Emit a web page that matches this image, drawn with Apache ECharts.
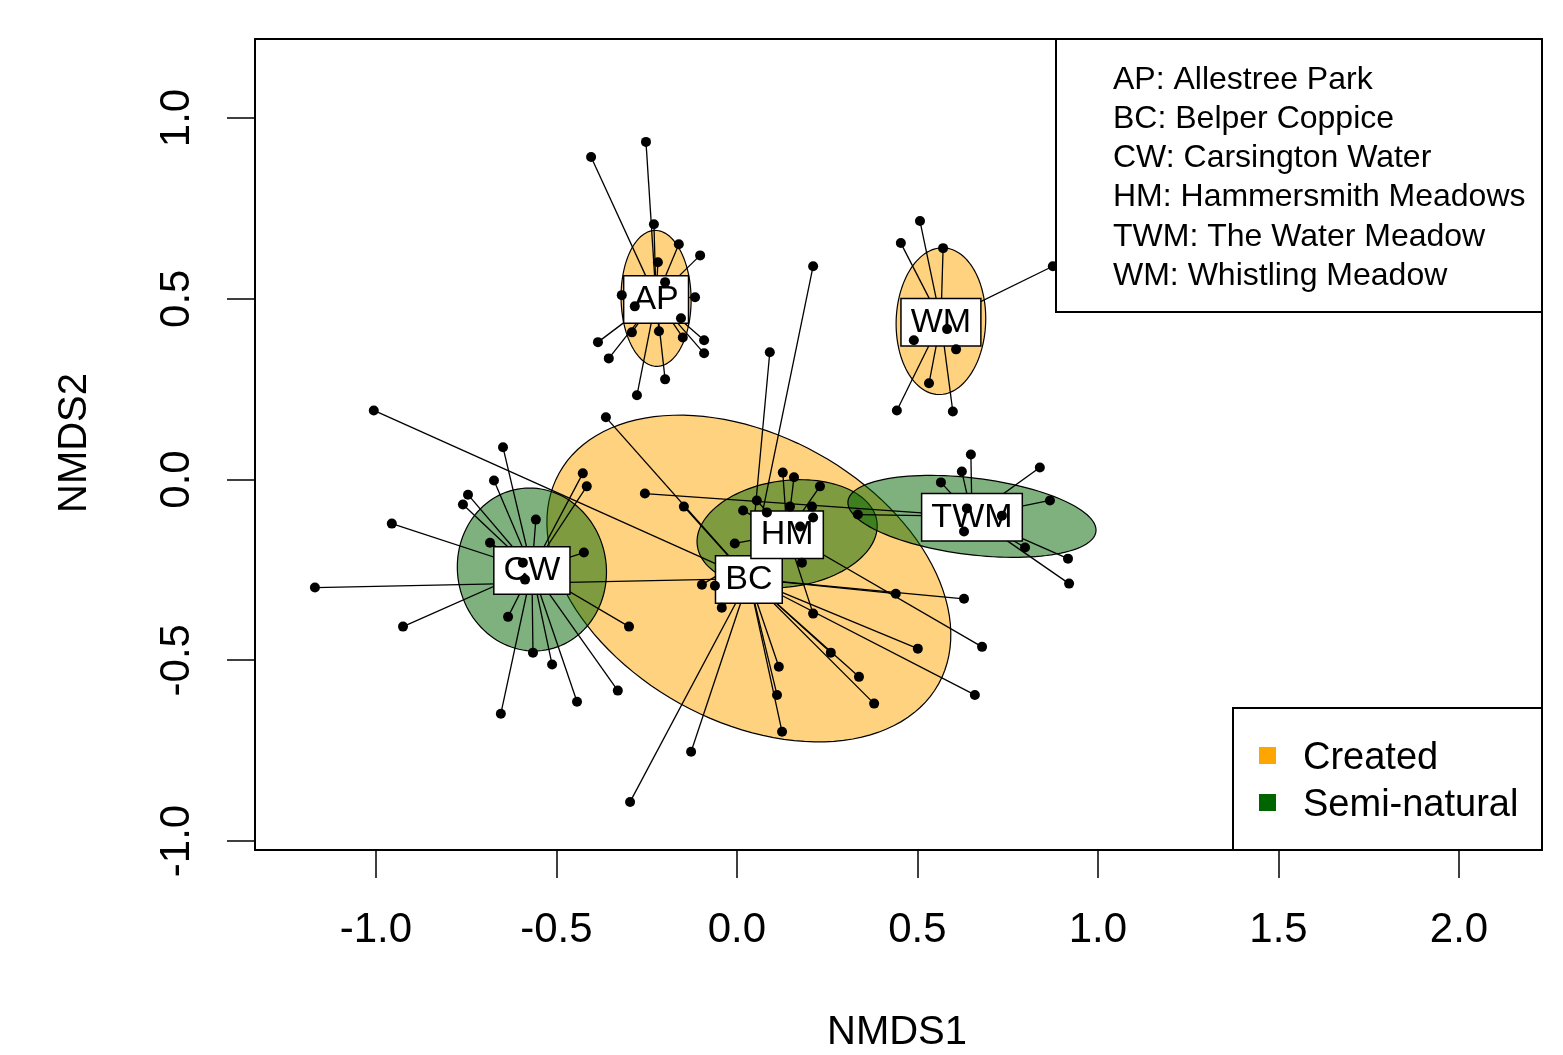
<!DOCTYPE html>
<html><head><meta charset="utf-8">
<script src="https://cdn.jsdelivr.net/npm/echarts@6/dist/echarts.min.js"></script>
<style>html,body{margin:0;padding:0;background:#fff}#c{width:1563px;height:1055px}</style>
</head><body><div id="c"></div>
<script>
// ---- data ----
const siteCodes = ['AP', 'BC', 'CW', 'HM', 'TWM', 'WM'];
const siteNames = ['Allestree Park', 'Belper Coppice', 'Carsington Water', 'Hammersmith Meadows', 'The Water Meadow', 'Whistling Meadow'];
const siteType = ['Created', 'Created', 'Semi-natural', 'Semi-natural', 'Semi-natural', 'Created'];
const typeNames = ['Created', 'Semi-natural'];
const typeColors = ['#FFA500', '#006400'];
const typeFills = ['rgba(255,165,0,0.5)', 'rgba(0,100,0,0.5)'];

const centroidX = [-0.224, 0.033, -0.568, 0.139, 0.651, 0.565];
const centroidY = [0.501, -0.274, -0.249, -0.150, -0.102, 0.438];
const ellipseA = [0.188, 0.601, 0.226, 0.251, 0.346, 0.203];
const ellipseB = [0.097, 0.395, 0.206, 0.147, 0.106, 0.124];
const ellipseAngle = [91, -29, 100, 7.6, -7, 88];

const xTicks = [-1.0, -0.5, 0.0, 0.5, 1.0, 1.5, 2.0];
const yTicks = [-1.0, -0.5, 0.0, 0.5, 1.0];

const apX = [-0.252, -0.404, -0.230, -0.161, -0.102, -0.219, -0.199, -0.319, -0.283, -0.116, -0.155, -0.291, -0.216, -0.150, -0.385, -0.091, -0.091, -0.355, -0.199, -0.277];
const apY = [0.934, 0.892, 0.706, 0.651, 0.620, 0.601, 0.546, 0.510, 0.479, 0.504, 0.446, 0.407, 0.410, 0.393, 0.380, 0.385, 0.349, 0.335, 0.277, 0.233];

const bcX = [-1.169, -1.006, -0.363, -0.147, 0.091, 0.211, -0.042, -0.296, -0.127, 0.116, 0.111, 0.125, 0.260, 0.338, 0.380, 0.440, 0.629, 0.501, 0.659];
const bcY = [-0.299, 0.191, 0.172, -0.075, 0.352, 0.590, -0.355, -0.892, -0.753, -0.518, -0.596, -0.698, -0.479, -0.546, -0.620, -0.316, -0.330, -0.468, -0.596];

const cwX = [-0.648, -0.673, -0.745, -0.759, -0.557, -0.956, -0.684, -0.427, -0.416, -0.424, -0.593, -0.587, -0.634, -0.925, -0.299, -0.565, -0.512, -0.330, -0.443, -0.654];
const cwY = [0.089, -0.003, -0.042, -0.069, -0.111, -0.122, -0.175, 0.017, -0.019, -0.202, -0.230, -0.277, -0.380, -0.407, -0.407, -0.479, -0.512, -0.584, -0.615, -0.648];

const hmX = [0.127, 0.158, 0.230, 0.055, 0.017, 0.083, 0.147, 0.208, 0.211, 0.175, -0.006, 0.180, 0.211, 0.679, -0.097, -0.061];
const hmY = [0.019, 0.006, -0.019, -0.058, -0.086, -0.091, -0.075, -0.075, -0.105, -0.130, -0.177, -0.230, -0.371, -0.463, -0.291, -0.294];

const twmX = [0.648, 0.623, 0.839, 0.867, 0.637, 0.734, 0.629, 0.798, 0.917, 0.920, 0.565, -0.255, 0.335];
const twmY = [0.069, 0.022, 0.033, -0.058, -0.080, -0.100, -0.144, -0.188, -0.219, -0.288, -0.008, -0.039, -0.097];

const wmX = [0.507, 0.454, 0.571, 0.875, 0.582, 0.490, 0.607, 0.532, 0.443, 0.598];
const wmY = [0.715, 0.654, 0.640, 0.590, 0.416, 0.385, 0.360, 0.266, 0.191, 0.188];

// ---- build series data ----
const siteX = [apX, bcX, cwX, hmX, twmX, wmX];
const siteY = [apY, bcY, cwY, hmY, twmY, wmY];

const pointData = [];
const spiderData = [];
siteCodes.forEach((code, i) => {
  siteX[i].forEach((x, j) => {
    pointData.push([x, siteY[i][j]]);
    spiderData.push([x, siteY[i][j], centroidX[i], centroidY[i]]);
  });
});

const labelData = siteCodes.map((code, i) => [centroidX[i], centroidY[i], i]);

const FONT = '"Liberation Sans", Arial, Helvetica, sans-serif';

function ellipseSeries(typeIdx) {
  const data = [];
  siteCodes.forEach((c, i) => {
    if (siteType[i] === typeNames[typeIdx]) {
      data.push([centroidX[i], centroidY[i], ellipseA[i], ellipseB[i], ellipseAngle[i]]);
    }
  });
  return {
    type: 'custom',
    name: typeNames[typeIdx],
    coordinateSystem: 'cartesian2d',
    z: 1,
    itemStyle: { color: typeColors[typeIdx] },
    encode: { x: 0, y: 1 },
    data: data,
    renderItem: function (params, api) {
      const cx = api.value(0), cy = api.value(1), a = api.value(2), b = api.value(3);
      const th = api.value(4) * Math.PI / 180;
      const pts = [];
      const N = 120;
      for (let k = 0; k < N; k++) {
        const t = 2 * Math.PI * k / N;
        const dx = a * Math.cos(t), dy = b * Math.sin(t);
        pts.push(api.coord([cx + dx * Math.cos(th) - dy * Math.sin(th), cy + dx * Math.sin(th) + dy * Math.cos(th)]));
      }
      return {
        type: 'polygon',
        shape: { points: pts },
        style: { fill: typeFills[typeIdx], stroke: '#000', lineWidth: 1.2 }
      };
    }
  };
}

const legendLines = siteCodes.map((c, i) => c + ': ' + siteNames[i]);
const graphics = [
  { type: 'rect', z: 100, shape: { x: 1056, y: 39, width: 486, height: 273 }, style: { fill: '#fff', stroke: '#000', lineWidth: 2 } },
  { type: 'rect', z: 100, shape: { x: 1233, y: 708, width: 309, height: 142 }, style: { fill: '#fff', stroke: '#000', lineWidth: 2 } },
  { type: 'text', z: 101, x: 897, y: 1033, style: { text: 'NMDS1', font: '40px ' + FONT, fill: '#000', align: 'center', verticalAlign: 'middle' } },
  { type: 'text', z: 101, x: 75, y: 443, rotation: Math.PI / 2, style: { text: 'NMDS2', font: '40px ' + FONT, fill: '#000', align: 'center', verticalAlign: 'middle' } }
];
legendLines.forEach((t, i) => {
  graphics.push({ type: 'text', z: 101, x: 1113, y: 80 + i * 39.2, style: { text: t, font: '32px ' + FONT, fill: '#000', align: 'left', verticalAlign: 'middle' } });
});
typeNames.forEach((t, i) => {
  graphics.push({ type: 'rect', z: 101, shape: { x: 1259, y: 747 + i * 47, width: 17, height: 17 }, style: { fill: typeColors[i] } });
  graphics.push({ type: 'text', z: 101, x: 1303, y: 759 + i * 47, style: { text: t, font: '38px ' + FONT, fill: '#000', align: 'left', verticalAlign: 'middle' } });
});

const option = {
  animation: false,
  backgroundColor: '#fff',
  grid: { left: 255, top: 39, width: 1287, height: 811, show: true, borderColor: '#000', borderWidth: 2, backgroundColor: 'transparent' },
  xAxis: {
    type: 'value', min: -1.335, max: 2.230,
    axisLine: { show: false, onZero: false },
    splitLine: { show: false },
    axisTick: { show: true, length: 28, customValues: xTicks, lineStyle: { color: '#000', width: 1.5 } },
    axisLabel: { show: true, customValues: xTicks, margin: 59, formatter: v => Number(v).toFixed(1), color: '#000', fontSize: 42, fontFamily: FONT }
  },
  yAxis: {
    type: 'value', min: -1.025, max: 1.2186,
    axisLine: { show: false, onZero: false },
    splitLine: { show: false },
    axisTick: { show: true, length: 28, customValues: yTicks, lineStyle: { color: '#000', width: 1.5 } },
    axisLabel: { show: true, customValues: yTicks, rotate: 90, margin: 57, formatter: v => Number(v).toFixed(1), color: '#000', fontSize: 42, fontFamily: FONT }
  },
  series: [
    ellipseSeries(0),
    ellipseSeries(1),
    {
      type: 'custom', name: 'spider', coordinateSystem: 'cartesian2d', z: 2,
      encode: { x: [0, 2], y: [1, 3] },
      data: spiderData,
      renderItem: function (params, api) {
        const p = api.coord([api.value(0), api.value(1)]);
        const c = api.coord([api.value(2), api.value(3)]);
        return { type: 'line', shape: { x1: c[0], y1: c[1], x2: p[0], y2: p[1] }, style: { stroke: '#000', lineWidth: 1.3 } };
      }
    },
    {
      type: 'custom', name: 'labels', coordinateSystem: 'cartesian2d', z: 3,
      encode: { x: 0, y: 1 },
      data: labelData,
      renderItem: function (params, api) {
        const c = api.coord([api.value(0), api.value(1)]);
        return {
          type: 'text', x: c[0], y: c[1] + 1,
          style: {
            text: siteCodes[api.value(2)], fill: '#000', font: '34px ' + FONT,
            align: 'center', verticalAlign: 'middle',
            backgroundColor: '#fff', borderColor: '#000', borderWidth: 1.5, padding: [6, 9]
          }
        };
      }
    },
    {
      type: 'scatter', name: 'sites', z: 4,
      symbol: 'circle', symbolSize: 10,
      itemStyle: { color: '#000', opacity: 1 },
      data: pointData
    }
  ],
  graphic: graphics
};

const chart = echarts.init(document.getElementById('c'), null, { renderer: 'canvas' });
chart.setOption(option);
</script>
</body></html>
